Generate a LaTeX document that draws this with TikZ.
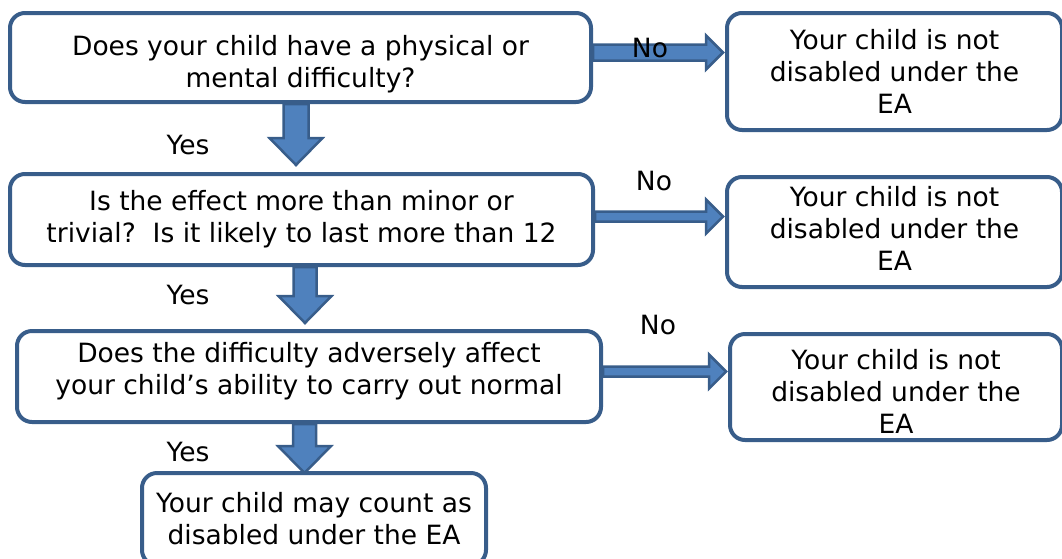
\documentclass[tikz,border=0pt]{standalone}
\usepackage{fontspec}
\setmainfont{DejaVu Sans}
\usetikzlibrary{calc}
\definecolor{boxblue}{RGB}{56,93,138}
\definecolor{arrowblue}{RGB}{79,129,189}

\begin{document}
\begin{tikzpicture}[x=1pt, y=-1pt,
  font=\fontsize{26.5}{32}\selectfont,
  box/.style={draw=boxblue, line width=4pt, rounded corners=15pt, fill=white, align=center, inner sep=0pt},
  blockarrow/.style={draw=boxblue, line width=2.5pt, fill=arrowblue, line join=miter},
  downarrow/.style={blockarrow, to path={let \p1=(\tikztostart), \p2=(\tikztotarget) in
    (\x1-#1,\y1) -- (\x1-#1,\y2+27pt) -- (\x1-26.5pt,\y2+27pt) -- (\x1,\y2)
    -- (\x1+26.5pt,\y2+27pt) -- (\x1+#1,\y2+27pt) -- (\x1+#1,\y1) -- cycle}},
  rightarrow/.style={blockarrow, to path={let \p1=(\tikztostart), \p2=(\tikztotarget) in
    (\x1,\y1+#1) -- (\x2-17pt,\y1+#1) -- (\x2-17pt,\y1+17pt) -- (\x2,\y1)
    -- (\x2-17pt,\y1-17pt) -- (\x2-17pt,\y1-#1) -- (\x1,\y1-#1) -- cycle}}]

\useasboundingbox (0,0) rectangle (1062,558);
\clip (0,0) rectangle (1062,558);

\node[box, minimum width=581, minimum height=89] (q1) at (300.5,57.5) {\rule{0pt}{34pt}Does your child have a physical or\\mental difficulty?};
\node[box, minimum width=583, minimum height=91] (q2) at (301.5,219.5) {Is the effect more than minor or\\trivial?\ \ Is it likely to last more than 12};
\node[box, minimum width=584, minimum height=91] (q3) at (309,376.5) {Does the difficulty adversely affect\\your child’s ability to carry out normal\rule[-16pt]{0pt}{1pt}};
\node[box, minimum width=344, minimum height=92] (q4) at (314,519) {Your child may count as\\disabled under the EA};

\node[box, minimum width=335, minimum height=117] (r1) at (894.5,71.5) {Your child is not\\disabled under the\\EA};
\node[box, minimum width=335, minimum height=110] (r2) at (894.5,232) {Your child is not\\disabled under the\\EA\rule[-8pt]{0pt}{1pt}};
\node[box, minimum width=332, minimum height=106] (r3) at (896,387) {\rule{0pt}{28pt}Your child is not\\disabled under the\\EA};

\draw[downarrow=12.5pt] ($(q1.south)+(-4.5,0)$) to ($(q2.north)+(-5.5,-7)$);
\draw[downarrow=11.5pt] ($(q2.south)+(3.5,0)$) to ($(q3.north)+(-4,-6)$);
\draw[downarrow=11.5pt] ($(q3.south)+(-4.5,0)$) to ($(q4.north)+(-9.5,2)$);

\draw[rightarrow=8pt] ($(q1.east)+(0,-5)$) to ($(r1.west)+(-2,0)$);
\draw[rightarrow=5pt] ($(q2.east)+(0,-3)$) to ($(r2.west)+(-2,0)$);
\draw[rightarrow=5pt] ($(q3.east)+(0,-5)$) to ($(r3.west)+(-2,0)$);

\node (yes1) at (188,145) {Yes};
\node (yes2) at (188,295) {Yes};
\node (yes3) at (188,452) {Yes};
\node (no1) at (650,48) {No};
\node (no2) at (654,181) {No};
\node (no3) at (658,325) {No};

\end{tikzpicture}
\end{document}
